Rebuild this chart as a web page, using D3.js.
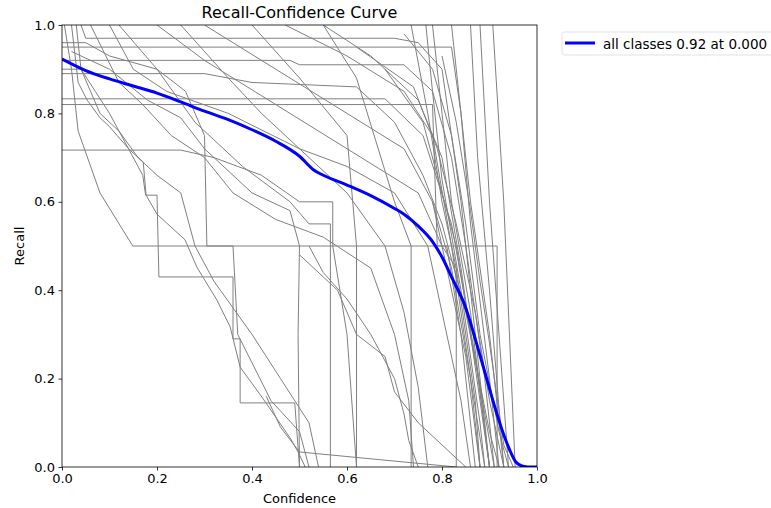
<!DOCTYPE html>
<html>
<head>
<meta charset="utf-8">
<script src="https://cdn.jsdelivr.net/npm/d3@7"></script>
<style>
  body { margin: 0; background: #fff; }
  text { font-family: "DejaVu Sans", sans-serif; fill: #000; }
</style>
</head>
<body>
<svg id="chart" width="771" height="508"></svg>
<script>
// per-class recall curves, [confidence, recall]
const classCurves = [
    [[0.02, 1], [0.034, 0.87], [0.053, 0.83], [0.08, 0.79], [0.10, 0.77], [0.116, 0.75], [0.143, 0.717], [0.171, 0.69], [0.177, 0.615], [0.2, 0.572], [0.259, 0.514], [0.284, 0.452], [0.326, 0.378], [0.354, 0.317], [0.375, 0.226], [0.421, 0.158], [0.48, 0.066], [0.497, 0.034], [0.512, 0]],
    [[0.005, 1], [0.02, 0.9], [0.034, 0.76], [0.08, 0.62], [0.149, 0.5], [0.916, 0.5], [0.916, 0]],
    [[0.03, 1], [0.04, 0.9], [0.07, 0.85], [0.1, 0.8], [0.13, 0.74], [0.17, 0.66], [0.176, 0.615], [0.2, 0.615], [0.204, 0.43], [0.36, 0.43], [0.36, 0.29], [0.375, 0.29], [0.375, 0.145], [0.49, 0.145], [0.5, 0]],
    [[0.907, 1], [0.93, 0.6], [0.954, 0]],
    [[0.88, 1], [0.9, 0.6], [0.94, 0]],
    [[0.86, 1], [0.875, 0.7], [0.9, 0.4], [0.93, 0]],
    [[0.82, 1], [0.84, 0.8], [0.86, 0.55], [0.9, 0.2], [0.92, 0]],
    [[0.78, 1], [0.8, 0.8], [0.82, 0.6], [0.86, 0.35], [0.9, 0]],
    [[0.766, 1], [0.78, 0.85], [0.8, 0.65], [0.84, 0.4], [0.88, 0.1], [0.89, 0]],
    [[0.735, 1], [0.77, 0.8], [0.8, 0.6], [0.83, 0.45], [0.87, 0.15], [0.88, 0]],
    [[0.47, 1], [0.6, 0.93], [0.72, 0.85], [0.78, 0.75], [0.82, 0.5], [0.86, 0.2], [0.88, 0]],
    [[0.55, 1], [0.65, 0.93], [0.75, 0.83], [0.8, 0.7], [0.84, 0.45], [0.88, 0.15], [0.9, 0]],
    [[0.3, 1], [0.45, 0.9], [0.6, 0.8], [0.72, 0.72], [0.78, 0.6], [0.82, 0.45], [0.86, 0.2], [0.89, 0]],
    [[0.2, 1], [0.3, 0.92], [0.45, 0.82], [0.6, 0.72], [0.75, 0.62], [0.8, 0.5], [0.85, 0.25], [0.88, 0]],
    [[0.1, 1], [0.15, 0.9], [0.22, 0.85], [0.35, 0.8], [0.5, 0.72], [0.6, 0.68], [0.7, 0.62], [0.77, 0.5], [0.8, 0.35], [0.84, 0.15], [0.86, 0]],
    [[0.04, 1], [0.05, 0.97], [0.7, 0.97], [0.75, 0.96], [0.8, 0.9], [0.84, 0.6], [0.87, 0.3], [0.9, 0]],
    [[0, 0.95], [0.82, 0.95], [0.84, 0.8], [0.86, 0.6], [0.9, 0.3], [0.93, 0]],
    [[0, 0.92], [0.48, 0.92], [0.5, 0.91], [0.72, 0.91], [0.78, 0.85], [0.82, 0.7], [0.85, 0.5], [0.89, 0.2], [0.91, 0]],
    [[0, 0.89], [0.3, 0.89], [0.4, 0.87], [0.62, 0.86], [0.7, 0.78], [0.76, 0.66], [0.8, 0.55], [0.85, 0.35], [0.9, 0.08], [0.92, 0]],
    [[0, 0.833], [0.68, 0.833], [0.76, 0.75], [0.82, 0.55], [0.87, 0.25], [0.9, 0]],
    [[0, 0.82], [0.78, 0.82], [0.79, 0.5], [0.81, 0.5], [0.84, 0.3], [0.87, 0]],
    [[0, 0.717], [0.25, 0.717], [0.32, 0.7], [0.42, 0.66], [0.5, 0.6], [0.57, 0.6], [0.57, 0.5], [0.6, 0.3], [0.62, 0]],
    [[0, 0.96], [0.05, 0.96], [0.1, 0.93], [0.2, 0.9], [0.26, 0.85], [0.3, 0.75], [0.305, 0.5], [0.36, 0.5], [0.37, 0.3], [0.44, 0.15], [0.5, 0.08], [0.52, 0]],
    [[0.02, 0.94], [0.1, 0.9], [0.18, 0.83], [0.25, 0.79], [0.3, 0.72], [0.36, 0.66], [0.4, 0.62], [0.48, 0.58], [0.5, 0.5], [0.497, 0.3], [0.5, 0]],
    [[0.06, 1], [0.12, 0.87], [0.17, 0.82], [0.23, 0.75], [0.3, 0.7], [0.36, 0.62], [0.45, 0.56], [0.55, 0.52], [0.65, 0.45], [0.7, 0.3], [0.73, 0.15], [0.74, 0]],
    [[0.12, 1], [0.2, 0.9], [0.28, 0.78], [0.38, 0.68], [0.48, 0.6], [0.52, 0.55], [0.565, 0.55], [0.565, 0]],
    [[0.25, 1], [0.35, 0.88], [0.42, 0.8], [0.52, 0.7], [0.6, 0.62], [0.68, 0.5], [0.72, 0.35], [0.75, 0.18], [0.77, 0]],
    [[0.4, 1], [0.5, 0.88], [0.6, 0.75], [0.62, 0.5], [0.62, 0]],
    [[0.55, 1], [0.62, 0.88], [0.7, 0.6], [0.735, 0.5], [0.735, 0]],
    [[0.43, 0.16], [0.46, 0.09], [0.5, 0.034], [0.83, 0]],
    [[0.52, 0.5], [0.55, 0.44], [0.6, 0.38], [0.65, 0.3], [0.7, 0.2], [0.72, 0.12], [0.73, 0.06], [0.75, 0]],
    [[0.5, 0.48], [0.58, 0.4], [0.62, 0.3], [0.68, 0.25], [0.7, 0.17], [0.75, 0.1], [0.8, 0.05], [0.85, 0]],
    [[0.78, 0.6], [0.8, 0.5], [0.83, 0.45], [0.83, 0]],
    [[0, 0.9], [0.04, 0.9], [0.06, 0.85], [0.08, 0.8], [0.12, 0.76], [0.16, 0.7], [0.2, 0.66], [0.25, 0.62], [0.28, 0.5], [0.32, 0.42], [0.4, 0.3], [0.46, 0.2], [0.52, 0.1], [0.54, 0]],
    [[0.68, 0.9], [0.76, 0.78], [0.8, 0.62], [0.83, 0.5], [0.86, 0.3], [0.89, 0.12], [0.91, 0]],
    [[0.62, 0.95], [0.74, 0.86], [0.79, 0.72], [0.83, 0.55], [0.87, 0.35], [0.9, 0.15], [0.93, 0]],
    [[0.72, 0.98], [0.78, 0.9], [0.82, 0.75], [0.85, 0.55], [0.88, 0.3], [0.92, 0.08], [0.94, 0]],
    [[0.8, 0.93], [0.83, 0.78], [0.86, 0.58], [0.88, 0.42], [0.9, 0.28], [0.93, 0.05], [0.95, 0]]
];

// mean curve over all classes
const allClasses = [
    [0, 0.923], [0.05, 0.897], [0.1, 0.878], [0.15, 0.862], [0.2, 0.846], [0.25, 0.826],
    [0.3, 0.805], [0.35, 0.786], [0.4, 0.763], [0.45, 0.737], [0.5, 0.703], [0.53, 0.672],
    [0.55, 0.66], [0.6, 0.638], [0.65, 0.614], [0.7, 0.585], [0.72, 0.572], [0.75, 0.545],
    [0.78, 0.51], [0.8, 0.475], [0.82, 0.43], [0.85, 0.36], [0.87, 0.29], [0.89, 0.215],
    [0.91, 0.14], [0.92, 0.105], [0.94, 0.045], [0.955, 0.012], [0.97, 0.002], [0.99, 0], [1, 0]
];

const ticks = [0, 0.2, 0.4, 0.6, 0.8, 1.0];
const legendLabel = "all classes 0.92 at 0.000";

const svg = d3.select("#chart");
const m = { left: 62, right: 537, top: 25, bottom: 467 };

const x = d3.scaleLinear().domain([0, 1]).range([m.left, m.right]);
const y = d3.scaleLinear().domain([0, 1]).range([m.bottom, m.top]);

svg.append("clipPath").attr("id", "plotClip")
    .append("rect")
    .attr("x", m.left).attr("y", m.top)
    .attr("width", m.right - m.left).attr("height", m.bottom - m.top);

const plot = svg.append("g").attr("clip-path", "url(#plotClip)");

const line = d3.line().x((d) => x(d[0])).y((d) => y(d[1]));

plot.selectAll("path.cls")
    .data(classCurves)
    .join("path")
    .attr("class", "cls")
    .attr("d", line)
    .attr("fill", "none")
    .attr("stroke", "grey")
    .attr("stroke-width", 1);

plot.append("path")
    .datum(allClasses)
    .attr("d", line.curve(d3.curveMonotoneX))
    .attr("fill", "none")
    .attr("stroke", "blue")
    .attr("stroke-width", 3);

// axes
const fmt = d3.format(".1f");
const xAxis = svg.append("g")
    .attr("transform", `translate(0,${m.bottom})`)
    .call(d3.axisBottom(x).tickValues(ticks).tickFormat(fmt).tickSizeOuter(0).tickSize(3.5).tickPadding(3.5));
const yAxis = svg.append("g")
    .attr("transform", `translate(${m.left},0)`)
    .call(d3.axisLeft(y).tickValues(ticks).tickFormat(fmt).tickSizeOuter(0).tickSize(3.5).tickPadding(3.5));

for (const ax of [xAxis, yAxis]) {
    ax.select(".domain").remove();
    ax.selectAll("text").attr("font-size", 13).attr("font-family", "DejaVu Sans");
    ax.selectAll("line").attr("stroke", "#000").attr("stroke-width", 0.8);
}

// frame
svg.append("rect")
    .attr("x", m.left).attr("y", m.top)
    .attr("width", m.right - m.left).attr("height", m.bottom - m.top)
    .attr("fill", "none").attr("stroke", "#000").attr("stroke-width", 0.8);

svg.append("text")
    .attr("x", (m.left + m.right) / 2).attr("y", 18)
    .attr("text-anchor", "middle").attr("font-size", 16)
    .text("Recall-Confidence Curve");

svg.append("text")
    .attr("x", (m.left + m.right) / 2).attr("y", 503)
    .attr("text-anchor", "middle").attr("font-size", 13)
    .text("Confidence");

svg.append("text")
    .attr("transform", `translate(24,${(m.top + m.bottom) / 2}) rotate(-90)`)
    .attr("text-anchor", "middle").attr("font-size", 13)
    .text("Recall");

// legend
const lg = svg.append("g").attr("transform", "translate(562,32)");
lg.append("rect")
    .attr("x", 0).attr("y", 0).attr("width", 215).attr("height", 23)
    .attr("rx", 2.5).attr("fill", "#fff").attr("stroke", "#d9d9d9").attr("stroke-width", 0.8);
lg.append("line")
    .attr("x1", 3).attr("x2", 33).attr("y1", 11).attr("y2", 11)
    .attr("stroke", "blue").attr("stroke-width", 3);
lg.append("text")
    .attr("x", 41).attr("y", 16.5).attr("font-size", 13.5)
    .text(legendLabel);
</script>
</body>
</html>
